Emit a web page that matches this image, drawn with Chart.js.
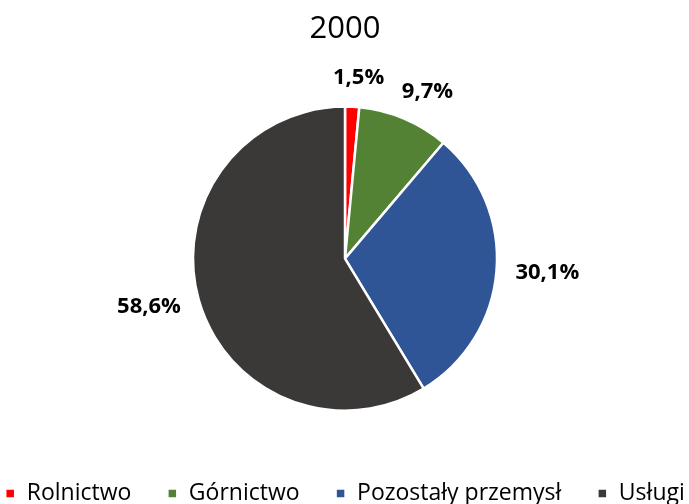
<!DOCTYPE html>
<html>
<head>
<meta charset="utf-8">
<script src="https://cdn.jsdelivr.net/npm/chart.js@4"></script>
<style>
  html, body { margin: 0; padding: 0; background: #fff; overflow: hidden; }
  #wrap { width: 780px; height: 515px; margin-left: -45px; }
</style>
</head>
<body>
<div id="wrap"><canvas id="myChart" width="780" height="515"></canvas></div>
<script>
const title = '2000';
const categories = ['Rolnictwo', 'Górnictwo', 'Pozostały przemysł', 'Usługi'];
const shares = [1.5, 9.7, 30.1, 58.6];
const colors = ['#FF0000', '#548235', '#2F5597', '#3B3838'];

const ctx = document.getElementById('myChart');

// labels outside each slice, like excel does
const outsideLabels = {
  id: 'outsideLabels',
  afterDatasetsDraw(chart) {
    const g = chart.ctx;
    const meta = chart.getDatasetMeta(0);
    g.save();
    g.font = 'bold 22px "Open Sans"';
    g.fillStyle = '#000';
    g.textAlign = 'center';
    g.textBaseline = 'middle';
    meta.data.forEach(function(arc, i) {
      const mid = (arc.startAngle + arc.endAngle) / 2;
      const cx = Math.cos(mid), cy = Math.sin(mid);
      const r = arc.outerRadius + 19;
      const txt = shares[i].toFixed(1).replace('.', ',') + '%';
      const w = g.measureText(txt).width / 2;
      const x = arc.x + cx * r + Math.sign(cx) * Math.sqrt(Math.abs(cx)) * w;
      const y = arc.y + cy * r + cy * 10;
      g.fillText(txt, x, y);
    });
    g.restore();
  }
};

new Chart(ctx, {
  type: 'pie',
  data: {
    labels: categories,
    datasets: [{
      data: shares,
      backgroundColor: colors,
      borderColor: '#fff',
      borderWidth: 2.5
    }]
  },
  options: {
    responsive: false,
    animation: false,
    radius: 152,
    layout: {
      padding: 0
    },
    plugins: {
      title: {
        display: true,
        text: title,
        color: '#000',
        font: { family: 'Open Sans', size: 31, weight: 'normal' },
        padding: { top: 11, bottom: 23 }
      },
      legend: {
        position: 'bottom',
        labels: {
          color: '#000',
          font: { family: 'Open Sans', size: 23 },
          boxWidth: 10,
          boxHeight: 10,
          padding: 36
        }
      },
      tooltip: { enabled: false }
    }
  },
  plugins: [outsideLabels]
});
</script>
</body>
</html>
